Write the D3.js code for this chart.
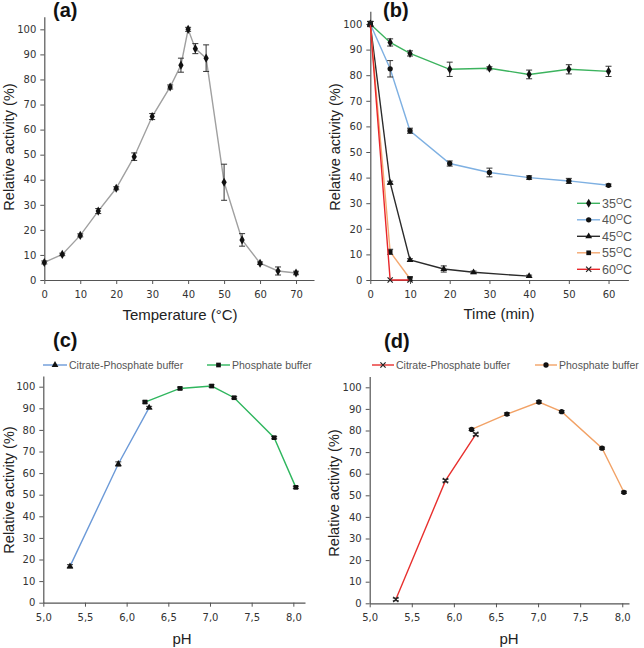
<!DOCTYPE html>
<html>
<head>
<meta charset="utf-8">
<script src="https://cdn.jsdelivr.net/npm/d3@7"></script>
<style>
  body { margin: 0; background: #fff; }
  svg { display: block; }
</style>
</head>
<body>
<script>
// (a) temperature optimum
const tempX = [0, 5, 10, 15, 20, 25, 30, 35, 38, 40, 42, 45, 50, 55, 60, 65, 70];
const tempY = [7, 10.2, 17.8, 27.5, 36.6, 49.2, 65.2, 77, 85.7, 100, 92.3, 88.5, 39, 16, 6.7, 3.6, 2.8];
const tempErr = [0.6, 0.5, 0.6, 1, 0.6, 1.5, 1.2, 0.8, 2.8, 0.8, 2, 5.3, 7.2, 2.5, 0.5, 1.6, 0.7];

// (b) thermal stability
const t35 = [0, 5, 10, 20, 30, 40, 50, 60];
const v35 = [100, 92.8, 88.5, 82.3, 82.7, 80.3, 82.3, 81.5];
const e35 = [1, 1.4, 1, 2.8, 0.6, 1.7, 1.8, 2];
const t40 = [0, 5, 10, 20, 30, 40, 50, 60];
const v40 = [100, 82.5, 58.3, 45.5, 42, 40, 38.7, 37];
const e40 = [1, 3.2, 1, 1, 1.7, 0.7, 1, 0.5];
const t45 = [0, 5, 10, 18.5, 26, 40];
const v45 = [100, 38, 7.8, 4.3, 3, 1.5];
const e45 = [1, 0.6, 0.5, 1.2, 0.5, 0.4];
const t55 = [0, 5, 10];
const v55 = [100, 11, 0.5];
const e55 = [1, 1, 0.8];
const t60 = [0, 5, 10];
const v60 = [100, 0, 0];
const e60 = [0, 0, 0];
const stabLabels = ["35", "40", "45", "55", "60"];

// (c) pH optimum, two buffers
const phCitC = [5.32, 5.9, 6.27];
const actCitC = [16.8, 64.2, 90.3];
const phPhoC = [6.22, 6.64, 7.02, 7.29, 7.77, 8.03];
const actPhoC = [92.9, 99.2, 100.3, 94.9, 76.4, 53.4];

// (d) pH stability, two buffers
const phCitD = [5.31, 5.9, 6.26];
const actCitD = [1.8, 56.8, 78.2];
const phPhoD = [6.21, 6.63, 7.01, 7.28, 7.76, 8.02];
const actPhoD = [80.5, 87.6, 93.2, 88.7, 71.8, 51.4];

const yTicks = d3.range(0, 101, 10);
const commaFmt = d => d.toFixed(1).replace(".", ",");

const svg = d3.select("body").append("svg")
  .attr("width", 644).attr("height", 648);

const tickFont = "DejaVu Sans, Verdana, sans-serif";
const labelFont = "Liberation Sans, Arial, sans-serif";

function marker(g, type, cx, cy) {
  if (type === "x") {
    g.append("path")
      .attr("d", "M-2.6,-2.6L2.6,2.6M-2.6,2.6L2.6,-2.6")
      .attr("transform", `translate(${cx},${cy})`)
      .attr("stroke", "#222").attr("stroke-width", 1.2).attr("fill", "none");
    return;
  }
  const sym = { diamond: d3.symbolDiamond, circle: d3.symbolCircle,
    triangle: d3.symbolTriangle, square: d3.symbolSquare }[type];
  const size = { diamond: 24, circle: 22, triangle: 20, square: 22 }[type];
  g.append("path")
    .attr("d", d3.symbol(sym, size)())
    .attr("transform", `translate(${cx},${cy})`)
    .attr("fill", "#111");
}

function drawPanel(cfg) {
  const x = d3.scaleLinear().domain(cfg.xd).range(cfg.xr);
  const y = d3.scaleLinear().domain([0, 105]).range(cfg.yr);
  const g = svg.append("g");

  const xAxis = g.append("g")
    .attr("transform", `translate(0,${cfg.yr[0]})`)
    .call(d3.axisBottom(x).tickValues(cfg.xTicks).tickSize(4).tickPadding(7)
      .tickFormat(cfg.xFmt || (d => d)).tickSizeOuter(0));
  const yAxis = g.append("g")
    .attr("transform", `translate(${cfg.xr[0]},0)`)
    .call(d3.axisLeft(y).tickValues(yTicks).tickSize(4).tickPadding(4).tickSizeOuter(0));
  [xAxis, yAxis].forEach(a => {
    a.select(".domain").attr("stroke", "#555").attr("stroke-width", 1.2);
    a.selectAll(".tick line").attr("stroke", "#555");
    a.selectAll(".tick text").attr("fill", "#333")
      .style("font-family", tickFont).style("font-size", "10px");
  });

  g.append("text").text(cfg.title)
    .attr("x", cfg.titlePos[0]).attr("y", cfg.titlePos[1])
    .style("font-family", labelFont).style("font-weight", "bold")
    .style("font-size", "20px").attr("fill", "#111");
  g.append("text").text(cfg.xLabel)
    .attr("x", cfg.xLabelPos[0]).attr("y", cfg.xLabelPos[1])
    .attr("text-anchor", "middle")
    .style("font-family", labelFont).style("font-size", "15px").attr("fill", "#222");
  g.append("text").text("Relative activity (%)")
    .attr("transform", `translate(${cfg.yLabelPos[0]},${cfg.yLabelPos[1]}) rotate(-90)`)
    .attr("text-anchor", "middle")
    .style("font-family", labelFont).style("font-size", "14.5px").attr("fill", "#222");

  const line = d3.line().x(d => x(d[0])).y(d => y(d[1]));
  cfg.series.forEach(s => {
    const pts = s.xs.map((v, i) => [v, s.ys[i]]);
    g.append("path").datum(pts).attr("d", line)
      .attr("fill", "none").attr("stroke", s.color).attr("stroke-width", 1.4);
    if (s.err) {
      s.xs.forEach((v, i) => {
        const e = s.err[i];
        if (!e) return;
        const px = x(v), y1 = y(s.ys[i] - e), y2 = y(s.ys[i] + e);
        const eb = g.append("g").attr("stroke", "#333").attr("stroke-width", 1);
        eb.append("line").attr("x1", px).attr("x2", px).attr("y1", y1).attr("y2", y2);
        eb.append("line").attr("x1", px - 3).attr("x2", px + 3).attr("y1", y1).attr("y2", y1);
        eb.append("line").attr("x1", px - 3).attr("x2", px + 3).attr("y1", y2).attr("y2", y2);
      });
    }
    s.xs.forEach((v, i) => marker(g, s.marker, x(v), y(s.ys[i])));
  });
  return g;
}

// (a)
drawPanel({
  xd: [0, 75], xr: [44.3, 314], yr: [280, 16.8], xTicks: d3.range(0, 71, 10),
  title: "(a)", titlePos: [53, 17],
  xLabel: "Temperature (°C)", xLabelPos: [180, 320], yLabelPos: [14, 147],
  series: [{ xs: tempX, ys: tempY, err: tempErr, color: "#a0a0a0", marker: "diamond" }]
});

// (b)
const stabColors = ["#3cb35e", "#7eb0e2", "#2b2b2b", "#f4a870", "#e8262a"];
const stabMarkers = ["diamond", "circle", "triangle", "square", "x"];
const gb = drawPanel({
  xd: [0, 65], xr: [370.3, 628.4], yr: [280, 11.2], xTicks: d3.range(0, 61, 10),
  title: "(b)", titlePos: [383, 17],
  xLabel: "Time (min)", xLabelPos: [499, 319], yLabelPos: [340, 147],
  series: [
    { xs: t35, ys: v35, err: e35, color: stabColors[0], marker: stabMarkers[0] },
    { xs: t40, ys: v40, err: e40, color: stabColors[1], marker: stabMarkers[1] },
    { xs: t45, ys: v45, err: e45, color: stabColors[2], marker: stabMarkers[2] },
    { xs: t55, ys: v55, err: e55, color: stabColors[3], marker: stabMarkers[3] },
    { xs: t60, ys: v60, err: e60, color: stabColors[4], marker: stabMarkers[4] }
  ]
});
stabLabels.forEach((lab, i) => {
  const ly = 203.3 + i * 16.5;
  gb.append("line").attr("x1", 577).attr("x2", 600).attr("y1", ly).attr("y2", ly)
    .attr("stroke", stabColors[i]).attr("stroke-width", 1.4);
  marker(gb, stabMarkers[i], 588.7, ly);
  const t = gb.append("text").attr("x", 602).attr("y", ly + 4.5)
    .style("font-family", labelFont).style("font-size", "12.5px").attr("fill", "#555");
  t.append("tspan").text(lab);
  t.append("tspan").text("O").attr("dy", -4).style("font-size", "9px");
  t.append("tspan").text("C").attr("dy", 4);
});

// (c) and (d) legends
function pairLegend(g, items) {
  items.forEach(it => {
    g.append("line").attr("x1", it.x1).attr("x2", it.x2).attr("y1", it.y).attr("y2", it.y)
      .attr("stroke", it.color).attr("stroke-width", 1.4);
    marker(g, it.marker, (it.x1 + it.x2) / 2, it.y);
    g.append("text").text(it.label).attr("x", it.x2 + 2).attr("y", it.y + 4)
      .style("font-family", labelFont).style("font-size", "10.5px").attr("fill", "#555");
  });
}

const gc = drawPanel({
  xd: [5, 8.14], xr: [43.3, 305], yr: [602.7, 375.9], xTicks: d3.range(5, 8.01, 0.5),
  xFmt: commaFmt,
  title: "(c)", titlePos: [53, 347],
  xLabel: "pH", xLabelPos: [182, 644], yLabelPos: [14, 490],
  series: [
    { xs: phCitC, ys: actCitC, err: [0.8, 1, 0.6], color: "#6c9ad8", marker: "triangle" },
    { xs: phPhoC, ys: actPhoC, err: [0.5, 0.6, 0.6, 0.5, 0.5, 0.5], color: "#2fb65e", marker: "square" }
  ]
});
pairLegend(gc, [
  { x1: 43, x2: 67, y: 365, color: "#6c9ad8", marker: "triangle", label: "Citrate-Phosphate buffer" },
  { x1: 207, x2: 230, y: 365, color: "#2fb65e", marker: "square", label: "Phosphate buffer" }
]);

const gd = drawPanel({
  xd: [5, 8.08], xr: [369.7, 629], yr: [603.3, 376.5], xTicks: d3.range(5, 8.01, 0.5),
  xFmt: commaFmt,
  title: "(d)", titlePos: [384, 348],
  xLabel: "pH", xLabelPos: [509, 644], yLabelPos: [339, 493],
  series: [
    { xs: phCitD, ys: actCitD, err: [0.6, 0.6, 0.6], color: "#e8302e", marker: "x" },
    { xs: phPhoD, ys: actPhoD, err: [0.5, 0.6, 0.6, 0.5, 0.5, 0.5], color: "#f2a266", marker: "circle" }
  ]
});
pairLegend(gd, [
  { x1: 372, x2: 394, y: 365, color: "#e8302e", marker: "x", label: "Citrate-Phosphate buffer" },
  { x1: 535, x2: 557, y: 365, color: "#f2a266", marker: "circle", label: "Phosphate buffer" }
]);
</script>
</body>
</html>
